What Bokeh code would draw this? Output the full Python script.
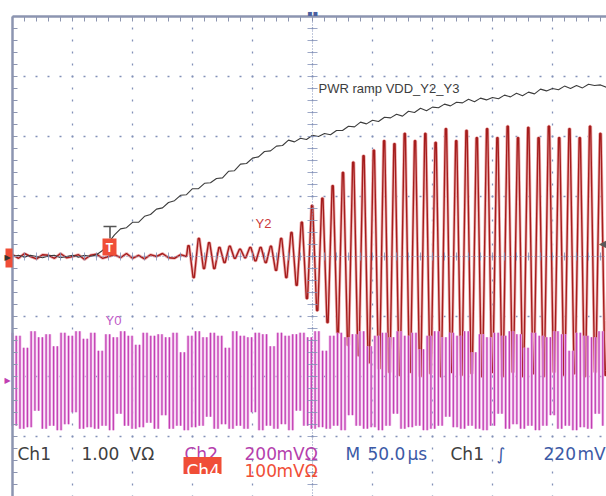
import numpy as np
from bokeh.plotting import figure
from bokeh.models import Range1d
from bokeh.core.properties import value
from bokeh.embed import file_html
from bokeh.resources import INLINE

# ---------------- scope settings ----------------
TIME_PER_DIV_US = 50.0
CH1_V_PER_DIV = 1.00
CH2_MV_PER_DIV = 200.0
CH4_MV_PER_DIV = 100.0
CH1_OFFSET_DIV = 0.0
CH2_OFFSET_DIV = -2.07
CH4_OFFSET_DIV = 0.0
TRIG_LEVEL_V = 0.22

# ---------------- Ch1 : PWR ramp VDD_Y2_Y3 (volts, every 5 us) ----------------
CH1_T_US = list(range(-250, 250, 5))
CH1_V = [0.00, 0.02, -0.01, 0.02, 0.00, -0.02, 0.01, 0.02, -0.02, 0.00, 0.02, -0.01, 0.02, 0.00,
         0.03, 0.10, 0.23, 0.36, 0.46, 0.48, 0.57, 0.57, 0.67, 0.70,
         0.79, 0.81, 0.90, 0.93, 1.02, 1.03, 1.13, 1.13, 1.22, 1.23,
         1.30, 1.31, 1.42, 1.43, 1.54, 1.55, 1.64, 1.66, 1.75, 1.76,
         1.84, 1.85, 1.94, 1.91, 1.97, 1.95, 2.02, 2.00, 2.05, 2.03,
         2.10, 2.10, 2.17, 2.16, 2.24, 2.21, 2.27, 2.25, 2.32, 2.31,
         2.37, 2.34, 2.42, 2.40, 2.47, 2.43, 2.49, 2.48, 2.54, 2.51,
         2.57, 2.56, 2.62, 2.58, 2.64, 2.61, 2.65, 2.63, 2.69, 2.66,
         2.72, 2.68, 2.74, 2.71, 2.79, 2.76, 2.80, 2.78, 2.84, 2.80,
         2.85, 2.81, 2.87, 2.85, 2.86, 2.82]

# ---------------- Ch4 : Y2 (mV) ----------------
Y2_BASE_T_US = list(range(-250, -100, 5))
Y2_BASE_MV = [3, -3, 5, 0, -4, 3, 2, -3, 5, -2, 0, 3, -5, 2, 4, -3, 0, 3, -2, 5,
              -3, 2, -4, 3, 0, 5, -2, -3, 3, 0]
Y2_OSC_START_US = -103.3
Y2_HALF_PERIOD_US = 4.29
Y2_PEAKS_MV = [18, 30, 23, 15, 17, 12, 15, 15, 17, 30, 40, 57, 85, 97, 118, 140, 157, 168, 177, 193,
               188, 205, 193, 205, 190, 213, 193, 210, 198, 213, 198, 217, 198, 215, 198, 217, 198, 213,
               198, 217, 205, 210]
Y2_TROUGHS_MV = [-35, -20, -20, -10, -3, -2, -7, -10, -23, -35, -48, -70, -90, -110, -128, -148, -165,
                 -177, -187, -193, -198, -193, -200, -195, -200, -193, -198, -195, -200, -193, -200,
                 -193, -200, -195, -200, -193, -198, -195, -200, -193, -198]

# ---------------- Ch2 : Y0 (mV extremes across the record) ----------------
Y0_T_START_US = -250.0
Y0_T_END_US = 245.0
Y0_MV = [160, -150, 150, -160, 110, -155, 165, -100, 145, -160, 155, -150, 115, -165, 160, -145, 150, -105, 165, -160,
         140, -155, 160, -160, 100, -150, 155, -165, 145, -110, 165, -150, 150, -160, 120, -155, 160, -140, 150, -160,
         155, -115, 145, -160, 160, -150, 95, -165, 150, -155, 165, -150, 145, -120, 160, -160, 150, -145, 110, -160,
         165, -150, 150, -160, 145, -105, 160, -165, 155, -150, 115, -160, 160, -145, 150, -165, 155, -100, 160, -150,
         145, -160, 165, -155, 100, -160, 150, -150, 160, -165, 145, -115, 155, -150, 165, -160, 115, -155, 150, -165,
         160, -150, 145, -110, 165, -160, 150, -155, 160, -150, 105, -165, 150, -160, 165, -150, 145, -120, 160, -155,
         150, -160, 165, -150, 95, -160, 155, -165, 145, -150, 160, -110, 150, -160, 165, -145, 155, -160, 110, -150,
         160, -165, 150, -150, 145, -115, 165, -160, 155, -150, 100, -165, 160, -155, 150, -160, 145, -110, 165, -150]

# ---------------- geometry (canvas pixel <-> scope units) ----------------
PX_PER_DIV = 60.0
US_PER_PX = TIME_PER_DIV_US / PX_PER_DIV
DIV_PER_PX = 1.0 / PX_PER_DIV
CX, CY = 312, 256          # canvas pixel of the screen centre
W, H = 606, 496


def dx(px):  # canvas pixel -> time (us)
    return (px - CX) * US_PER_PX


def dy(py):  # canvas pixel -> divisions
    return (CY - py) * DIV_PER_PX


SX0 = -5 * TIME_PER_DIV_US     # left edge of the graticule
SX1 = dx(W)
SY0 = -4.0
SY1 = 4.0                      # top edge of the graticule

GRAT = "#8391b8"
BORDER = "#8c95b0"
GRAY_T = "#404040"
MAG_T = "#b53fad"
BLUE_T = "#3c5aa6"
ORG = "#f04e37"

p = figure(width=W, height=H, x_range=Range1d(dx(0), dx(W)), y_range=Range1d(dy(H), dy(0)),
           x_axis_location=None, y_axis_location=None,
           output_backend="svg", toolbar_location=None,
           min_border_left=0, min_border_top=0, min_border_right=0, min_border_bottom=0,
           outline_line_color=None, background_fill_color="white", border_fill_color="white")
p.grid.visible = False

# ---------------- graticule dots (major lines) ----------------
gx = np.arange(SX0 + TIME_PER_DIV_US, SX1, TIME_PER_DIV_US)
gy = np.arange(SY0 + 1, SY1, 1.0)
p.segment(x0=gx, x1=gx, y0=np.full_like(gx, SY0), y1=np.full_like(gx, SY1),
          line_color=GRAT, line_width=1.3, line_dash="2 10", line_dash_offset=1)
p.segment(x0=np.full_like(gy, SX0), x1=np.full_like(gy, SX1), y0=gy, y1=gy,
          line_color=GRAT, line_width=1.3, line_dash="2 10", line_dash_offset=1)

# ---------------- traces ----------------
# Ch4 / Y2 : each extreme held briefly, steep edges (drawn under Y0 as on the scope)
swing = []
for i in range(len(Y2_PEAKS_MV)):
    swing.append(Y2_PEAKS_MV[i])
    if i < len(Y2_TROUGHS_MV):
        swing.append(Y2_TROUGHS_MV[i])
t_swing = Y2_OSC_START_US + Y2_HALF_PERIOD_US * np.arange(len(swing))
HOLD = 0.12 * Y2_HALF_PERIOD_US
t_hold = np.ravel(np.column_stack([t_swing - HOLD, t_swing + HOLD]))
v_hold = np.repeat(np.array(swing, float), 2)
t_y2 = np.concatenate([np.array(Y2_BASE_T_US, float), t_hold])
y2_div = CH4_OFFSET_DIV + np.concatenate([np.array(Y2_BASE_MV, float), v_hold]) / CH4_MV_PER_DIV
p.line(t_y2, y2_div, line_color="#efb2b2", line_width=3.0)
p.line(t_y2, y2_div, line_color="#a51d1d", line_width=1.4)

# Ch2 / Y0 : peak-detect style vertical strokes between successive extremes
t_y0 = np.linspace(Y0_T_START_US, Y0_T_END_US, len(Y0_MV))
y0_div = CH2_OFFSET_DIV + np.array(Y0_MV, float) / CH2_MV_PER_DIV
p.segment(x0=t_y0[:-1], x1=t_y0[:-1], y0=y0_div[:-1], y1=y0_div[1:],
          line_color="#eeb4e8", line_width=2.8)
p.segment(x0=t_y0[:-1], x1=t_y0[:-1], y0=y0_div[:-1], y1=y0_div[1:],
          line_color="#c13fb2", line_width=1.2)

# Ch1 ramp
ch1_div = CH1_OFFSET_DIV + np.array(CH1_V) / CH1_V_PER_DIV
p.line(CH1_T_US, ch1_div, line_color="#3c3c3c", line_width=1.1)

# ---------------- centre lines, borders and ticks ----------------
p.segment(x0=[0], x1=[0], y0=[SY0], y1=[SY1], line_color=GRAT, line_dash="1 2", line_width=1)
p.segment(x0=[SX0], x1=[SX1], y0=[0], y1=[0], line_color=GRAT, line_dash="1 2", line_width=1)
ty = np.arange(SY0, SY1 + 1e-6, 0.2)
tx = np.arange(SX0, SX1, TIME_PER_DIV_US / 5)
p.segment(x0=np.full_like(ty, -5 * US_PER_PX), x1=np.full_like(ty, 5 * US_PER_PX), y0=ty, y1=ty,
          line_color=GRAT, line_width=1, line_alpha=0.8)
p.segment(x0=tx, x1=tx, y0=np.full_like(tx, -4 * DIV_PER_PX), y1=np.full_like(tx, 4 * DIV_PER_PX),
          line_color=GRAT, line_width=1, line_alpha=0.8)
p.segment(x0=np.full_like(ty, SX0), x1=np.full_like(ty, SX0 + 5 * US_PER_PX), y0=ty, y1=ty,
          line_color=BORDER, line_width=1)
p.segment(x0=tx, x1=tx, y0=np.full_like(tx, SY1), y1=np.full_like(tx, SY1 - 5 * DIV_PER_PX),
          line_color=BORDER, line_width=1)
p.segment(x0=[SX0, SX0], x1=[SX0, SX1], y0=[SY0, SY1], y1=[SY1, SY1],
          line_color=BORDER, line_width=2.5)

# ---------------- trace labels ----------------
LS = value("Liberation Sans")
DV = value("DejaVu Sans")
p.text(x=[dx(318)], y=[dy(88)], text=["PWR ramp VDD_Y2_Y3"], text_font=LS,
       text_font_size="13px", text_color="#3d3d3d", text_baseline="alphabetic")
p.text(x=[dx(255)], y=[dy(223)], text=["Y2"], text_font=LS,
       text_font_size="13px", text_color="#cc3b3b", text_baseline="alphabetic")
p.text(x=[dx(105)], y=[dy(320)], text=["Y0"], text_font=LS,
       text_font_size="13px", text_color="#c05ac8", text_baseline="alphabetic")

# trigger markers
p.segment(x0=[dx(103)], x1=[dx(116)], y0=[dy(226)], y1=[dy(226)], line_color="#555555", line_width=1.6)
p.segment(x0=[dx(109.5)], x1=[dx(109.5)], y0=[dy(226)], y1=[dy(238)], line_color="#555555", line_width=1.6)
p.rect(x=[dx(109)], y=[dy(246.5)], width=14, height=17, width_units="screen",
       height_units="screen", fill_color=ORG, line_color=None)
p.text(x=[dx(109)], y=[dy(247)], text=["T"], text_font=LS, text_font_size="12px",
       text_font_style="bold", text_color="white", text_align="center", text_baseline="middle")
p.text(x=[dx(606)], y=[TRIG_LEVEL_V / CH1_V_PER_DIV], text=["◀"], text_font=DV,
       text_font_size="10px", text_color="#5a5a5a", text_align="right", text_baseline="middle")

# channel ground markers at the left edge, horizontal-position marker at the top
p.rect(x=[dx(8.5)], y=[CH4_OFFSET_DIV - 1.5 * DIV_PER_PX], width=7, height=19, width_units="screen",
       height_units="screen", fill_color=ORG, line_color=None)
p.text(x=[dx(4)], y=[CH4_OFFSET_DIV - 1 * DIV_PER_PX], text=["▶"], text_font=DV,
       text_font_size="8px", text_color="#333333", text_baseline="middle")
p.text(x=[dx(4)], y=[CH2_OFFSET_DIV], text=["▶"], text_font=DV,
       text_font_size="8px", text_color="#c13fb2", text_baseline="middle")
p.text(x=[0], y=[dy(13)], text=["▪▪"], text_font=DV, text_font_size="8px", text_color="#4a5fa0",
       text_align="center", text_baseline="alphabetic")

# ---------------- readout ----------------
row1 = [("Ch1", 17, GRAY_T), ("1.00", 81, GRAY_T), ("VΩ", 129, GRAY_T),
        ("Ch2", 184, MAG_T), ("200", 244, MAG_T), ("mVΩ", 276, MAG_T),
        ("M", 345, BLUE_T), ("50.0", 367, BLUE_T), ("µs", 407, BLUE_T),
        ("Ch1", 450, GRAY_T), ("∫", 496, BLUE_T), ("220", 543, BLUE_T), ("mV", 577, BLUE_T)]
p.text(x=[dx(r[1]) for r in row1], y=[dy(453)] * len(row1), text=[r[0] for r in row1],
       text_color=[r[2] for r in row1], text_font=DV, text_font_size="17px",
       text_baseline="alphabetic")
p.rect(x=[dx(202)], y=[dy(465)], width=38, height=17, width_units="screen",
       height_units="screen", fill_color=ORG, line_color=None)
row2 = [("Ch4", 186, "white"), ("100", 244, ORG), ("mVΩ", 276, ORG)]
p.text(x=[dx(r[1]) for r in row2], y=[dy(470)] * len(row2), text=[r[0] for r in row2],
       text_color=[r[2] for r in row2], text_font=DV, text_font_size="17px",
       text_baseline="alphabetic")

open("out.html", "w").write(file_html(p, INLINE))
